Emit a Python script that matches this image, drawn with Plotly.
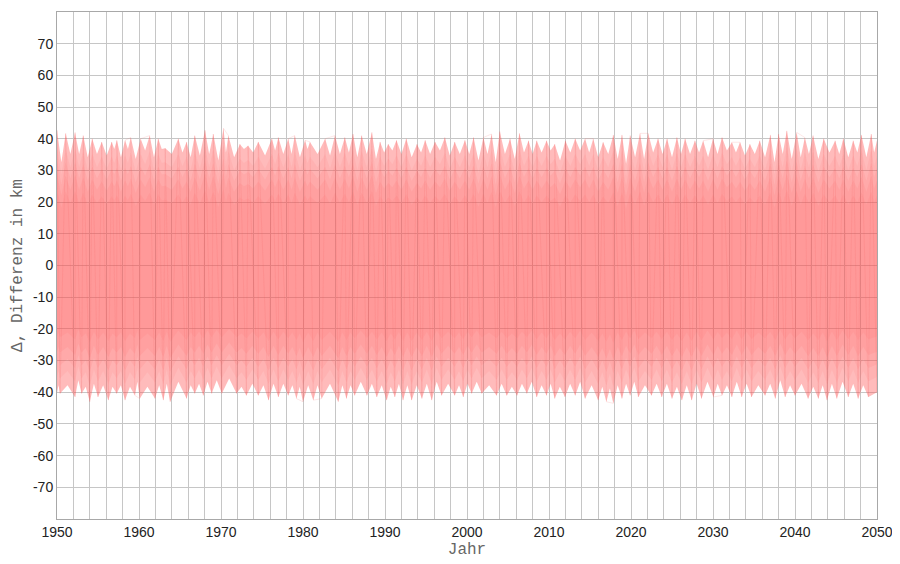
import plotly.graph_objects as go

# ---- data ----
upper_peak_years = [1950.0, 1951.06, 1952.2, 1953.2, 1954.3, 1955.45, 1956.67, 1957.3, 1958.3, 1959.0,
                    1960.2, 1961.3, 1962.35, 1963.2, 1964.8, 1965.8, 1966.8, 1968.05, 1969.06, 1970.3,
                    1970.9, 1972.3, 1973.3, 1974.55, 1976.2, 1977.0, 1978.2, 1979.0, 1980.25, 1980.85,
                    1982.7, 1983.9, 1985.1, 1986.1, 1987.15, 1988.4, 1989.4, 1990.4, 1991.4, 1992.6,
                    1993.9, 1994.9, 1996.1, 1997.3, 1998.5, 1999.75,
                    2000.8, 2002.0, 2003.0, 2004.0, 2005.25, 2006.4, 2007.5, 2008.5, 2009.7, 2010.7,
                    2012.0, 2013.2, 2014.4, 2015.4, 2016.6, 2017.85, 2018.9, 2019.9, 2021.1, 2022.1,
                    2023.3, 2024.4, 2025.6, 2026.6, 2027.8, 2028.8, 2030.0, 2031.1, 2032.3, 2033.3,
                    2034.5, 2035.7, 2037.0, 2038.0, 2039.0, 2040.2, 2041.2, 2042.2, 2043.5, 2044.9,
                    2045.9, 2047.1, 2048.1, 2049.3, 2050.0]
upper_peak_vals = [42.7, 41.7, 42.0, 41.0, 40.0, 39.0, 39.0, 39.5, 39.5, 40.4,
                   40.0, 41.0, 40.0, 37.0, 40.0, 39.0, 41.0, 42.7, 41.5, 43.3,
                   41.0, 38.3, 37.8, 39.0, 40.0, 40.4, 40.0, 41.0, 39.5, 39.0,
                   40.0, 41.0, 40.4, 41.5, 41.0, 42.0, 39.0, 38.3, 39.5, 40.0,
                   38.3, 39.5, 39.0, 40.4, 39.0, 39.5,
                   40.4, 40.4, 41.5, 42.3, 40.0, 41.7, 39.4, 39.4, 39.4, 38.3,
                   39.4, 40.0, 40.0, 40.0, 38.9, 41.2, 41.2, 41.0, 41.7, 41.7,
                   40.0, 40.0, 40.4, 40.0, 39.4, 39.4, 40.0, 40.4, 38.9, 38.9,
                   38.3, 39.4, 41.2, 41.5, 42.5, 42.0, 40.4, 41.0, 40.0, 39.4,
                   40.0, 39.4, 41.2, 41.5, 39.4]
upper_dip_vals = [32.6, 35.2, 35.2, 34.2, 35.2, 34.7, 36.8, 34.2, 36.8, 33.6,
                  36.3, 34.2, 36.8, 35.2, 35.7, 34.2, 34.7, 35.2, 33.1, 35.7,
                  34.2, 36.8, 35.7, 34.7, 36.3, 35.2, 35.2, 34.2, 36.8, 35.2,
                  34.7, 35.2, 35.7, 34.2, 35.2, 33.6, 35.7, 36.3, 35.2, 34.2,
                  35.7, 35.2, 36.3, 34.7, 35.2, 35.2,
                  33.1, 35.2, 32.6, 35.2, 33.6, 35.7, 35.2, 35.7, 36.3, 33.1,
                  35.7, 36.3, 35.7, 34.2, 35.2, 33.6, 32.1, 34.2, 33.6, 35.7,
                  35.2, 34.2, 35.2, 35.2, 35.7, 34.2, 35.2, 36.3, 35.7, 34.7,
                  35.2, 34.2, 32.6, 35.2, 33.6, 34.2, 35.2, 33.6, 35.7, 35.2,
                  34.2, 35.7, 34.2, 35.7]

lower_spike_years = [1950.0, 1950.37, 1952.2, 1953.0, 1954.0, 1955.0, 1956.26, 1957.28, 1958.3, 1959.5,
                     1960.1, 1961.95, 1962.97, 1963.8, 1965.8, 1966.8, 1967.85, 1968.86, 1970.1, 1971.9,
                     1973.1, 1974.55, 1975.8, 1977.0, 1978.2, 1979.2, 1980.0, 1981.26, 1982.28, 1984.3,
                     1985.3, 1986.3, 1987.8, 1989.0, 1990.2, 1991.2, 1992.2, 1993.25, 1994.5, 1995.7,
                     1996.9, 1998.5, 1999.55,
                     2000.57, 2001.8, 2003.6, 2004.85, 2006.1, 2007.3, 2008.5, 2009.7, 2010.7, 2011.95,
                     2013.2, 2014.4, 2016.0, 2017.0, 2017.85, 2018.9, 2019.9, 2020.9, 2022.5, 2023.75,
                     2025.0, 2026.2, 2027.4, 2028.6, 2030.05, 2031.1, 2032.3, 2033.5, 2034.7, 2036.35,
                     2037.6, 2038.8, 2040.0, 2041.6, 2042.85, 2043.9, 2045.1, 2046.5, 2047.7, 2048.95,
                     2050.0]
lower_spike_vals = [-40.0, -40.4, -41.5, -40.4, -43.0, -41.5, -42.5, -40.4, -42.5, -41.0,
                    -42.0, -42.0, -42.5, -43.0, -42.0, -40.4, -41.0, -40.4, -40.4, -40.4,
                    -41.0, -41.0, -42.5, -41.5, -41.0, -42.0, -43.0, -42.5, -42.0, -43.0,
                    -42.0, -41.0, -41.0, -41.5, -42.5, -41.5, -42.5, -42.5, -42.0, -42.5,
                    -41.0, -41.0, -41.5,
                    -40.4, -40.4, -41.0, -41.0, -41.0, -40.4, -41.5, -41.0, -42.0, -41.5,
                    -41.0, -42.0, -42.5, -43.0, -43.5, -42.0, -41.0, -41.5, -41.0, -41.5,
                    -42.0, -42.5, -42.5, -42.0, -41.5, -41.0, -41.5, -41.5, -41.5, -41.0,
                    -42.0, -41.5, -41.0, -42.0, -42.0, -42.5, -42.0, -41.5, -42.0, -41.5,
                    -40.0]
lower_notch_vals = [-37.8, -37.8, -36.2, -38.3, -37.3, -37.8, -38.3, -37.8, -38.3, -36.7,
                    -38.3, -37.8, -37.3, -36.7, -37.8, -37.3, -36.7, -36.2, -35.7, -38.3,
                    -37.3, -37.8, -37.3, -37.3, -37.8, -38.3, -37.8, -37.8, -37.3, -37.8,
                    -37.8, -36.7, -37.3, -37.8, -38.3, -37.3, -37.8, -37.8, -37.3, -36.7,
                    -37.3, -37.8,
                    -37.3, -36.7, -37.8, -37.3, -38.3, -37.3, -36.7, -37.8, -37.3, -38.3,
                    -37.3, -36.7, -37.8, -38.3, -38.8, -37.8, -37.3, -36.7, -37.8, -37.3,
                    -37.3, -38.3, -37.8, -37.3, -36.7, -37.3, -37.8, -36.7, -37.3, -37.8,
                    -37.3, -36.2, -37.8, -37.3, -38.3, -37.8, -37.3, -36.7, -37.3, -37.8]

x_tick_years = [1950, 1960, 1970, 1980, 1990, 2000, 2010, 2020, 2030, 2040, 2050]
y_tick_vals = [-70, -60, -50, -40, -30, -20, -10, 0, 10, 20, 30, 40, 50, 60, 70]


def edge(years, peak_vals, dip_vals):
    xs, ys = [], []
    for i, (t, v) in enumerate(zip(years, peak_vals)):
        xs.append(t)
        ys.append(v)
        if i < len(dip_vals):
            xs.append((t + years[i + 1]) / 2)
            ys.append(dip_vals[i])
    return xs, ys


ux, uy = edge(upper_peak_years, upper_peak_vals, upper_dip_vals)
lx, ly = edge(lower_spike_years, lower_spike_vals, lower_notch_vals)

fig = go.Figure()

# nested bands: density of the oscillation is highest near the centre
layers = [(1.0, "rgba(255,85,85,0.40)"),
          (0.88, "rgba(250,70,70,0.07)"),
          (0.78, "rgba(250,70,70,0.08)"),
          (0.68, "rgba(250,70,70,0.08)"),
          (0.56, "rgba(250,70,70,0.07)")]
for scale, col in layers:
    px = ux + lx[::-1]
    py = [v * scale for v in uy] + [v * scale for v in ly[::-1]]
    fig.add_trace(go.Scatter(
        x=px, y=py, mode="lines", fill="toself",
        fillcolor=col,
        line=dict(width=0), hoverinfo="skip", showlegend=False))

# streak texture: the oscillation running between both envelopes, in time order
merged = sorted(list(zip(upper_peak_years, upper_peak_vals)) + list(zip(lower_spike_years, lower_spike_vals)))
fig.add_trace(go.Scatter(
    x=[p[0] for p in merged], y=[p[1] for p in merged], mode="lines",
    line=dict(color="rgba(240,90,90,0.18)", width=0.8),
    hoverinfo="skip", showlegend=False))

grid_col = "#c6c6c6"
fig.update_layout(
    width=892, height=556,
    margin=dict(l=49, r=23, t=4, b=45, autoexpand=False),
    paper_bgcolor="white", plot_bgcolor="white",
    showlegend=False,
    xaxis=dict(
        range=[1950, 2050], tickvals=x_tick_years,
        ticktext=[str(v) for v in x_tick_years],
        showgrid=True, gridcolor=grid_col, gridwidth=1,
        minor=dict(dtick=2, tick0=1950, showgrid=True, gridcolor=grid_col, gridwidth=1),
        showline=True, linecolor="#a8a8a8", linewidth=1, mirror=True,
        ticks="", zeroline=False, automargin=False,
        tickfont=dict(family="Liberation Sans, Arial", size=14, color="#222"),
        title=dict(text="Jahr", font=dict(family="Liberation Mono, Courier New, monospace", size=16, color="#666"), standoff=4),
    ),
    yaxis=dict(
        range=[-80, 80], tickvals=y_tick_vals,
        ticktext=[str(v) for v in y_tick_vals],
        showgrid=True, gridcolor=grid_col, gridwidth=1,
        showline=True, linecolor="#a8a8a8", linewidth=1, mirror=True,
        ticks="", zeroline=False, automargin=False,
        tickfont=dict(family="Liberation Sans, Arial", size=14, color="#222"),
        title=dict(text="Δ, Differenz in km", font=dict(family="Liberation Mono, Courier New, monospace", size=16, color="#666"), standoff=6),
    ),
)

fig.write_html("out.html")
